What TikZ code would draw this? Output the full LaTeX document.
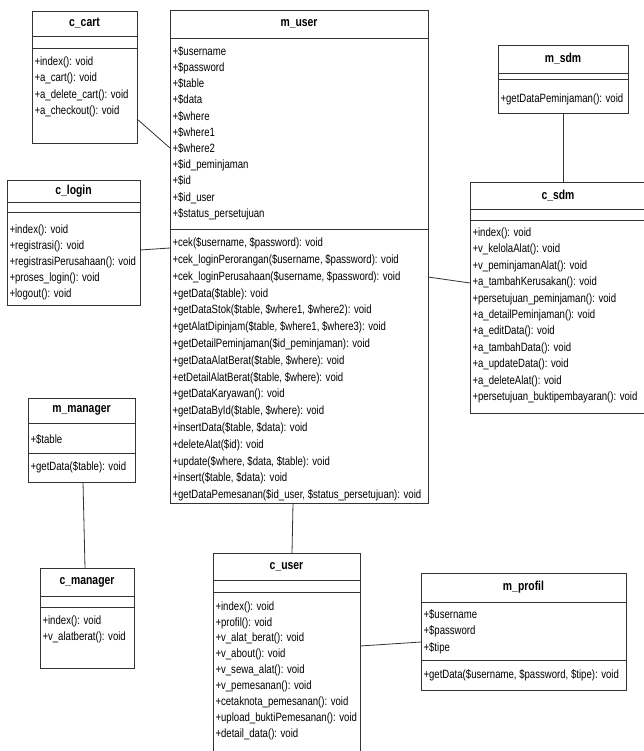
\documentclass[tikz,border=0pt]{standalone}
\usepackage{fontspec}
\setmainfont[FakeStretch=0.8]{Liberation Sans}
\usetikzlibrary{positioning}

\begin{document}
\begin{tikzpicture}[x=1pt, y=-1pt,
        cls/.style={draw=black!80, line width=0.8pt, inner sep=0pt, outer sep=0pt, fill=white},
        clshead/.style 2 args={cls, anchor=north west, minimum width=#1, minimum height=#2,
            font=\bfseries\fontsize{13}{15}\selectfont},
        clsgap/.style 2 args={cls, minimum width=#1, minimum height=#2},
        clspart/.style n args={3}{cls, inner xsep=2.5pt, font=\fontsize{12}{16.4}\selectfont,
            execute at begin node={\begin{minipage}[t][#2][t]{#1}\vspace*{#3}\raggedright\strut},
            execute at end node={\end{minipage}}},
        conn/.style={draw=black!80, line width=0.8pt}]
    \useasboundingbox[fill=white] (0,0) rectangle (643,751);

    % controllers and models, left column
    \node [clshead={105pt}{25pt}] (ccart) at (32,11) {c\_cart};
    \node [clsgap={105pt}{12pt}, below=0pt of ccart] (ccart-attr) {};
    \node [clspart={100pt}{95pt}{6pt}, below=0pt of ccart-attr] (ccart-ops)
        {+index(): void\\+a\_cart(): void\\+a\_delete\_cart(): void\\+a\_checkout(): void};

    \node [clshead={133pt}{22pt}] (clogin) at (7,180) {c\_login};
    \node [clsgap={133pt}{10pt}, below=0pt of clogin] (clogin-attr) {};
    \node [clspart={128pt}{93pt}{10pt}, below=0pt of clogin-attr, font=\fontsize{12}{16}\selectfont] (clogin-ops)
        {+index(): void\\+registrasi(): void\\+registrasiPerusahaan(): void\\+proses\_login(): void\\+logout(): void};

    \node [clshead={107pt}{25pt}] (mmanager) at (28,398) {m\_manager};
    \node [clspart={102pt}{30pt}{9pt}, below=0pt of mmanager] (mmanager-attr) {+\$table};
    \node [clspart={102pt}{29pt}{6pt}, below=0pt of mmanager-attr] (mmanager-ops) {+getData(\$table): void};

    \node [clshead={94pt}{28pt}] (cmanager) at (40,568) {c\_manager};
    \node [clsgap={94pt}{11pt}, below=0pt of cmanager] (cmanager-attr) {};
    \node [clspart={89pt}{61pt}{6pt}, below=0pt of cmanager-attr] (cmanager-ops)
        {+index(): void\\+v\_alatberat(): void};

    % m_user
    \node [clshead={258pt}{28pt}] (muser) at (170,10) {m\_user};
    \node [clspart={253pt}{191pt}{6pt}, below=0pt of muser, font=\fontsize{12}{16.2}\selectfont] (muser-attr)
        {+\$username\\+\$password\\+\$table\\+\$data\\+\$where\\+\$where1\\+\$where2\\
         +\$id\_peminjaman\\+\$id\\+\$id\_user\\+\$status\_persetujuan};
    \node [clspart={253pt}{274pt}{6pt}, below=0pt of muser-attr, font=\fontsize{12}{16.8}\selectfont] (muser-ops)
        {+cek(\$username, \$password): void\\
         +cek\_loginPerorangan(\$username, \$password): void\\
         +cek\_loginPerusahaan(\$username, \$password): void\\
         +getData(\$table): void\\
         +getDataStok(\$table, \$where1, \$where2): void\\
         +getAlatDipinjam(\$table, \$where1, \$where3): void\\
         +getDetailPeminjaman(\$id\_peminjaman): void\\
         +getDataAlatBerat(\$table, \$where): void\\
         +etDetailAlatBerat(\$table, \$where): void\\
         +getDataKaryawan(): void\\
         +getDataById(\$table, \$where): void\\
         +insertData(\$table, \$data): void\\
         +deleteAlat(\$id): void\\
         +update(\$where, \$data, \$table): void\\
         +insert(\$table, \$data): void\\
         +getDataPemesanan(\$id\_user, \$status\_persetujuan): void};

    % right column
    \node [clshead={130pt}{28pt}] (msdm) at (498,45) {m\_sdm};
    \node [clsgap={130pt}{6pt}, below=0pt of msdm] (msdm-attr) {};
    \node [clspart={125pt}{34pt}{12pt}, below=0pt of msdm-attr] (msdm-ops) {+getDataPeminjaman(): void};

    \node [clshead={176pt}{27pt}] (csdm) at (470,182) {c\_sdm};
    \node [clsgap={176pt}{11pt}, below=0pt of csdm] (csdm-attr) {};
    \node [clspart={171pt}{193pt}{5pt}, below=0pt of csdm-attr] (csdm-ops)
        {+index(): void\\+v\_kelolaAlat(): void\\+v\_peminjamanAlat(): void\\+a\_tambahKerusakan(): void\\
         +persetujuan\_peminjaman(): void\\+a\_detailPeminjaman(): void\\+a\_editData(): void\\
         +a\_tambahData(): void\\+a\_updateData(): void\\+a\_deleteAlat(): void\\
         +persetujuan\_buktipembayaran(): void};

    % bottom
    \node [clshead={147pt}{27pt}] (cuser) at (213,553) {c\_user};
    \node [clsgap={147pt}{12pt}, below=0pt of cuser] (cuser-attr) {};
    \node [clspart={142pt}{170pt}{7pt}, below=0pt of cuser-attr, font=\fontsize{12}{15.9}\selectfont] (cuser-ops)
        {+index(): void\\+profil(): void\\+v\_alat\_berat(): void\\+v\_about(): void\\+v\_sewa\_alat(): void\\
         +v\_pemesanan(): void\\+cetaknota\_pemesanan(): void\\+upload\_buktiPemesanan(): void\\+detail\_data(): void};

    \node [clshead={205pt}{29pt}] (mprofil) at (421,573) {m\_profil};
    \node [clspart={200pt}{58pt}{5pt}, below=0pt of mprofil] (mprofil-attr)
        {+\$username\\+\$password\\+\$tipe};
    \node [clspart={200pt}{30pt}{7pt}, below=0pt of mprofil-attr] (mprofil-ops)
        {+getData(\$username, \$password, \$tipe): void};

    % associations
    \draw [conn] ([yshift=-23.5pt]ccart-ops.east) -- ([yshift=-14.5pt]muser-attr.west);
    \draw [conn] ([yshift=8.5pt]clogin-ops.east) -- ([yshift=118pt]muser-ops.west);
    \draw [conn] ([yshift=89pt]muser-ops.east) -- ([yshift=33.5pt]csdm-ops.west);
    \draw [conn] (msdm-ops.south) -- (msdm-ops.south |- csdm.north);
    \draw [conn] ([xshift=-6pt]muser-ops.south) -- ([xshift=5.5pt]cuser.north);
    \draw [conn] ([xshift=1.5pt]mmanager-ops.south) -- ([xshift=-2pt]cmanager.north);
    \draw [conn] ([yshift=31pt]cuser-ops.east) -- ([yshift=-11pt]mprofil-attr.west);
\end{tikzpicture}
\end{document}
